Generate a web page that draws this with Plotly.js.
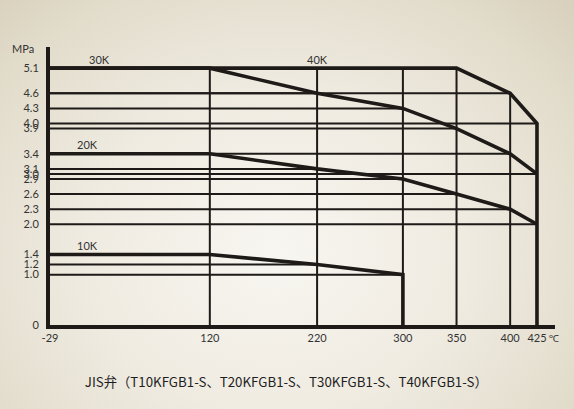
<!DOCTYPE html>
<html>
<head>
<meta charset="utf-8">
<script src="https://cdn.plot.ly/plotly-3.0.1.min.js"></script>
<style>
  html, body { margin: 0; padding: 0; }
  body {
    width: 574px; height: 409px; overflow: hidden;
    background: radial-gradient(ellipse at 48% 62%, #f8f6f1 0%, #efebe1 45%, #e2dccb 80%, #d8d0bc 100%);
  }
  #chart { width: 574px; height: 409px; }
</style>
</head>
<body>
<div id="chart"></div>
<script>
// ---- data ----
const temps = [-29, 120, 220, 300, 350, 400, 425];           // °C
const p10K  = [1.4, 1.4, 1.2, 1.0];                          // MPa (ends at 300 °C)
const p20K  = [3.4, 3.4, 3.1, 2.9, 2.6, 2.3, 2.0];
const p30K  = [5.1, 5.1, 4.6, 4.3, 3.9, 3.4, 3.0];
const p40K  = [5.1, 5.1, 5.1, 5.1, 5.1, 4.6, 4.0];
const seriesNames = ['10K', '20K', '30K', '40K'];
const yTickVals = [0, 1.0, 1.2, 1.4, 2.0, 2.3, 2.6, 2.9, 3.0, 3.1, 3.4, 3.9, 4.0, 4.3, 4.6, 5.1];
const yTickText = ['0', '1.0', '1.2', '1.4', '2.0', '2.3', '2.6', '2.9', '3.0', '3.1', '3.4', '3.9', '4.0', '4.3', '4.6', '5.1'];
const xTickText = ['-29', '120', '220', '300', '350', '400', '425'];
const titleText = 'JIS弁（T10KFGB1-S、T20KFGB1-S、T30KFGB1-S、T40KFGB1-S）';

const ink = '#1d1a18';
const series = [p10K, p20K, p30K, p40K];

// grid segments: horizontal from the first temperature to each curve point,
// vertical from 0 up to the outer (40K) envelope
const gx = [], gy = [];
series.forEach(p => {
  p.forEach((v, i) => {
    if (i === 0) return;
    gx.push(temps[0], temps[i], null);
    gy.push(v, v, null);
  });
});
temps.forEach((t, i) => {
  if (i === 0) return;
  gx.push(t, t, null);
  gy.push(0, p40K[i], null);
});

const traces = [{
  x: gx, y: gy, mode: 'lines', type: 'scatter',
  line: { color: ink, width: 2 }, hoverinfo: 'skip', showlegend: false
}];

series.forEach((p, k) => {
  const xs = temps.slice(0, p.length);
  const ys = p.slice();
  // the 10K and 40K curves close down to the baseline at their last temperature
  if (k === 0 || k === 3) { xs.push(xs[xs.length - 1]); ys.push(0); }
  traces.push({
    x: xs, y: ys, mode: 'lines', type: 'scatter', name: seriesNames[k],
    line: { color: ink, width: 3.6 }, hoverinfo: 'skip', showlegend: false
  });
});

const labelFont = { family: 'Lato, "Noto Sans", sans-serif', size: 11, color: '#333' };

const layout = {
  width: 574, height: 409,
  margin: { l: 50, r: 19, t: 47, b: 84, pad: 0 },
  paper_bgcolor: 'rgba(0,0,0,0)',
  plot_bgcolor: 'rgba(0,0,0,0)',
  showlegend: false,
  title: {
    text: titleText,
    font: { family: '"Noto Sans CJK JP", sans-serif', size: 13.3, color: '#1e1e1e' },
    x: 0.468, xanchor: 'center', y: 0.064, yanchor: 'middle', xref: 'paper'
  },
  xaxis: {
    range: [-29, 441.8], showgrid: false, zeroline: false,
    showline: true, linecolor: ink, linewidth: 4,
    tickmode: 'array', tickvals: temps, ticktext: xTickText,
    ticks: '', tickfont: labelFont, fixedrange: true
  },
  yaxis: {
    range: [0, 5.52], showgrid: false, zeroline: false,
    showline: true, linecolor: ink, linewidth: 4,
    tickmode: 'array', tickvals: yTickVals, ticktext: yTickText,
    ticks: '', tickfont: labelFont, ticklabelstandoff: 5, fixedrange: true
  },
  annotations: [
    { text: 'MPa', xref: 'paper', yref: 'paper', x: 0, y: 1.0, xanchor: 'right', yanchor: 'middle',
      xshift: -14, yshift: -1,
      showarrow: false, font: { family: labelFont.family, size: 11, color: '#333' } },
    { text: seriesNames[2], x: 17, y: 5.28, showarrow: false, font: labelFont },
    { text: seriesNames[3], x: 220, y: 5.28, showarrow: false, font: labelFont },
    { text: seriesNames[1], x: 6, y: 3.58, showarrow: false, font: labelFont },
    { text: seriesNames[0], x: 6, y: 1.58, showarrow: false, font: labelFont },
    { text: '℃', x: 425, y: 0, xanchor: 'left', yanchor: 'top', xshift: 10, yshift: -5,
      showarrow: false, font: { family: labelFont.family, size: 10, color: '#333' } }
  ]
};

Plotly.newPlot('chart', traces, layout, { displayModeBar: false, staticPlot: true });
</script>
</body>
</html>
